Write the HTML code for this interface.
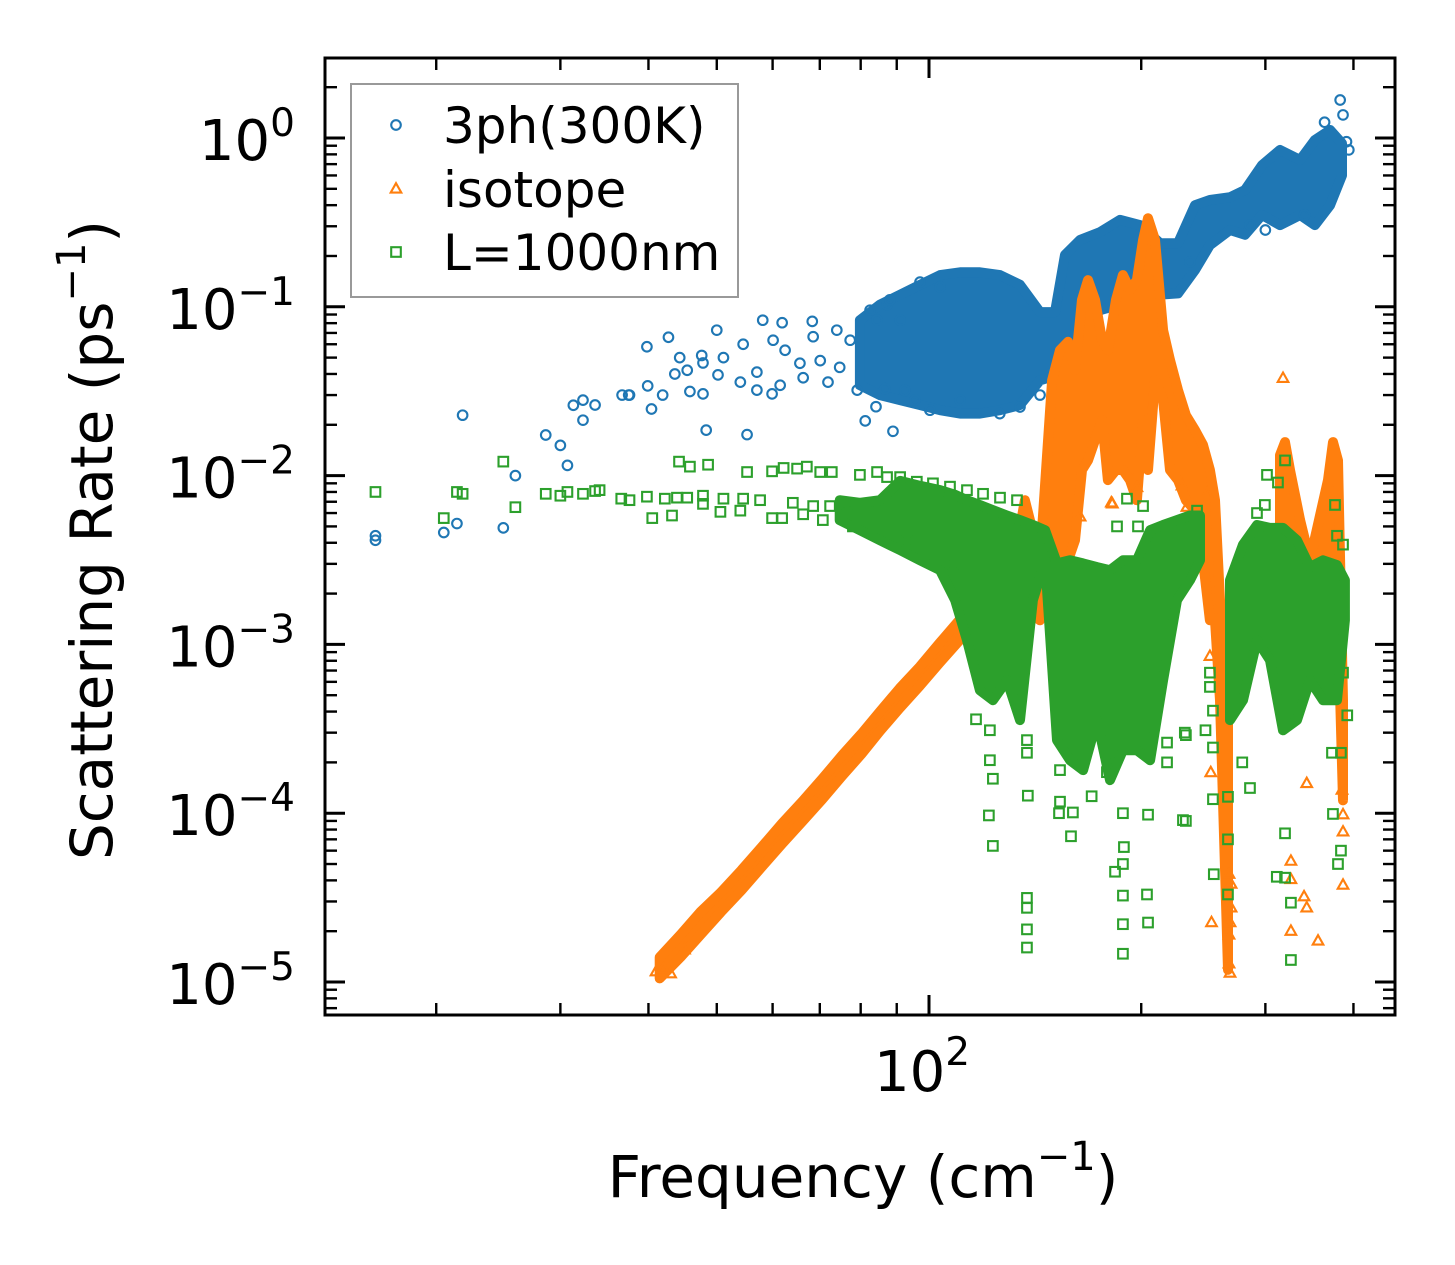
<!DOCTYPE html>
<html><head><meta charset="utf-8"><style>
html,body{margin:0;padding:0;background:#fff;}
svg{display:block;font-family:"DejaVu Sans","Liberation Sans",sans-serif;}
</style></head><body>
<svg id="chart" width="1455" height="1265" viewBox="0 0 1455 1265" xmlns="http://www.w3.org/2000/svg">
<rect x="0" y="0" width="1455" height="1265" fill="#fff"/>
<g id="marks"></g>
<g id="axes"></g>
<g id="legend"></g>
</svg>
<script>
// axis tick values
const xMajorTicks = [100];
const xMinorTicks = [20,30,40,50,60,70,80,90,200,300,400];
const yMajorExps = [0,-1,-2,-3,-4,-5];
const xTickLabels = [["10","2"]];
const yTickLabels = [["10","0"],["10","\u22121"],["10","\u22122"],["10","\u22123"],["10","\u22124"],["10","\u22125"]];

// 3ph(300K) scattered points [frequency, rate]
const phPoints = [[16.4,0.00414],[16.4,0.0044],[20.5,0.0046],[21.4,0.0052],[21.8,0.0228],[24.9,0.0049],[25.9,0.0100],[28.6,0.0174],[30.0,0.0151],[30.7,0.0115],[31.3,0.0261],[32.3,0.0213],[32.3,0.028],[33.6,0.0262],[37.6,0.0300],[39.8,0.058],[42.7,0.066],[40.4,0.0248],[39.9,0.034],[36.7,0.030],[37.5,0.030],[41.9,0.030],[44.3,0.050],[43.6,0.040],[45.4,0.0421],[45.8,0.0315],[47.8,0.0305],[47.6,0.0515],[47.8,0.0465],[50.0,0.0727],[51.1,0.050],[50.2,0.0395],[48.3,0.0186],[55.2,0.0175],[54.5,0.060],[54.0,0.0358],[57.0,0.0321],[58.1,0.0833],[61.9,0.0805],[59.9,0.0305],[61.5,0.0343],[57.0,0.041],[60.1,0.0634],[62.5,0.0553],[66.3,0.038],[68.3,0.082],[68.5,0.0665],[71.9,0.0358],[74.0,0.0727],[74.7,0.0438],[79.1,0.0321],[81.2,0.0211],[84.1,0.0256],[88.9,0.0183],[86.6,0.0327],[87.2,0.103],[97.1,0.140],[103.7,0.131],[84.4,0.0833],[65.6,0.0463],[70.1,0.048],[77.3,0.0634],[82.5,0.0955],[88,0.11],[91,0.0833],[92.4,0.032],[95.5,0.028],[100.3,0.0244],[110.7,0.028],[126,0.0233],[134.6,0.0255],[143.7,0.0300],[153.4,0.0421],[163.8,0.0727],[205.9,0.120],[234.5,0.184],[285.3,0.305],[300,0.285],[341,0.35],[364,1.24],[383,1.68],[386.6,1.37],[391,0.95],[394,0.85]];
// 3ph dense regions [frequency, low, high]
const phBands = [[79.8,0.0343,0.0833],[85.2,0.030,0.103],[91.0,0.028,0.118],[97.1,0.0262,0.135],[103.7,0.0244,0.154],[110.7,0.0233,0.160],[118.1,0.0233,0.160],[126.1,0.0244,0.154],[134.6,0.0262,0.135],[143.7,0.0367,0.093],[150.9,0.039,0.093],[155.9,0.045,0.203],[163.8,0.068,0.249],[174.8,0.0955,0.277],[186.6,0.103,0.327],[199.2,0.110,0.305],[212.7,0.118,0.238],[225.5,0.120,0.238],[238.4,0.165,0.40],[250.3,0.232,0.429],[267.3,0.285,0.446],[280.7,0.267,0.492],[296.7,0.35,0.69],[314.7,0.305,0.849],[336,0.35,0.741],[352.7,0.305,0.973],[370.6,0.40,1.115],[385.3,0.60,0.93]];

// isotope scattered points
const isoPoints = [[250.3,0.00085],[251.0,0.000174],[251.6,0.0000225],[266.4,0.0000435],[268.2,0.0000380],[268.2,0.0000275],[267.3,0.0000225],[266.4,0.0000190],[266.4,0.0000128],[267.3,0.0000113],[326.1,0.0000520],[326.1,0.0000405],[343.4,0.0000275],[326.1,0.0000200],[343.4,0.000150],[385.3,0.000137],[386.6,0.0000980],[386.6,0.0000775],[386.6,0.0000375],[197.2,0.0085],[228.5,0.0087],[232.2,0.0065],[248.0,0.0078],[181.4,0.0069],[317.8,0.0377],[163.8,0.0057],[182.0,0.0068],[356.3,0.0000175],[340.4,0.0000320],[41.0,0.0000115],[42.0,0.000012],[43.0,0.0000112],[45.0,0.0000155]];
// isotope dense regions
const isoBands = [[41.5,0.0000105,0.000014],[44.4,0.000014,0.000019],[47.4,0.000019,0.000026],[50.7,0.000026,0.000034],[54.2,0.000035,0.000046],[57.9,0.000048,0.000063],[61.9,0.000066,0.000087],[66.1,0.000089,0.000117],[70.6,0.000121,0.00016],[75.3,0.000166,0.00022],[80.2,0.000224,0.000295],[85.2,0.000307,0.00040],[90.9,0.00042,0.00055],[97.1,0.00057,0.00074],[103.6,0.00078,0.00102],[110.6,0.00106,0.0014],[116.2,0.00137,0.0018],[122.0,0.00139,0.0021],[130.3,0.00147,0.00225],[136.8,0.0016,0.00715],[143.7,0.00139,0.00315],[149.5,0.00183,0.0367],[153.4,0.00183,0.0553],[157.5,0.00315,0.062],[161.1,0.00414,0.0421],[164.8,0.0108,0.110],[168.1,0.0123,0.144],[172.0,0.0162,0.110],[176.0,0.0213,0.0634],[179.4,0.0094,0.0553],[184.2,0.0108,0.110],[188.4,0.0108,0.154],[192.8,0.0094,0.126],[197.2,0.00715,0.144],[201.2,0.0213,0.249],[204.5,0.0108,0.335],[209.2,0.0367,0.249],[214.8,0.028,0.0727],[219.7,0.0108,0.0483],[225.5,0.0094,0.0321],[231.4,0.00715,0.0228],[238.4,0.00624,0.0186],[244.7,0.00315,0.0152],[250.3,0.00139,0.0108],[254.5,0.00139,0.00715],[258.7,0.000467,0.00183],[265.5,0.0000118,0.00106],[314.7,0.00183,0.0132],[319.9,0.00139,0.0158],[325.1,0.00106,0.0108],[336,0.00139,0.00545],[347.0,0.000924,0.00315],[368.1,0.00183,0.0094],[374.1,0.00275,0.0158],[380.3,0.00139,0.0123],[386.6,0.000119,0.000467]];

// L=1000nm scattered points
const bdPoints = [[16.4,0.0080],[20.5,0.0056],[21.4,0.0080],[21.8,0.0078],[24.9,0.0121],[25.9,0.0065],[28.6,0.0078],[30.0,0.0076],[30.7,0.0080],[32.3,0.0078],[33.6,0.0081],[34.1,0.0082],[36.6,0.0073],[37.6,0.00715],[39.8,0.0075],[40.5,0.0056],[42.2,0.0073],[43.2,0.0058],[43.9,0.0074],[45.4,0.0074],[47.8,0.0076],[47.8,0.0068],[51.1,0.0073],[50.6,0.0061],[54.0,0.0062],[54.5,0.0073],[57.6,0.00715],[59.9,0.0056],[61.9,0.0056],[64.1,0.0069],[66.3,0.0059],[68.5,0.0066],[70.7,0.00545],[72.4,0.0066],[76.5,0.0068],[78.0,0.0050],[84.4,0.0064],[88.9,0.0040],[93.1,0.0041],[96.1,0.0057],[101.3,0.0052],[103.7,0.0036],[108.2,0.0030],[115.4,0.0052],
[44.2,0.0121],[45.8,0.0113],[48.6,0.0116],[55.2,0.0105],[59.9,0.0106],[62.2,0.0111],[65.0,0.0110],[67.1,0.0113],[70.1,0.0105],[72.8,0.0105],[79.8,0.0101],[84.4,0.0105],[87.2,0.0098],[91.0,0.0098],[96.1,0.0092],[101.3,0.0090],[107.1,0.0086],[113.2,0.0082],[119.3,0.0078],[126.1,0.0074],[133.3,0.00715],
[116.6,0.00036],[122.0,0.00031],[122.0,0.000206],[123.2,0.000160],[121.6,0.000097],[123.2,0.000064],[137.7,0.000271],[137.7,0.000228],[138.1,0.000127],[137.7,0.0000315],[137.7,0.0000275],[137.7,0.0000205],[137.7,0.0000160],[153.4,0.000180],[153.4,0.000117],[152.9,0.000100],[160.0,0.000101],[159.0,0.000073],[170.1,0.000126],[178.8,0.000175],[188.4,0.000100],[189.0,0.000063],[188.4,0.000050],[183.6,0.000045],[188.4,0.0000325],[188.4,0.0000220],[188.4,0.0000147],[204.5,0.000098],[203.8,0.0000330],[204.5,0.0000225],[217.6,0.000262],[217.6,0.000200],[231.4,0.000290],[231.4,0.000090],[250.3,0.00068],[250.3,0.00056],[252.8,0.000405],[246.7,0.000310],[252.8,0.000245],[252.8,0.000121],[253.5,0.0000435],[265.5,0.000125],[265.5,0.000070],[265.5,0.000033],[285.3,0.000141],[278.2,0.000200],[319.9,0.000076],[326.1,0.0000295],[326.1,0.0000135],[311.4,0.0000420],[319.9,0.0000415],[374.1,0.0000990],[384.0,0.000060],[380.3,0.000050],[384.0,0.000228],[372.9,0.000228],[392.0,0.000380],[386.6,0.00068],[229.2,0.000091],[230.6,0.000300],
[190.9,0.0073],[201.2,0.0066],[197.9,0.0050],[184.8,0.0050],[240.0,0.0062],[301.6,0.0101],[312.6,0.0091],[319.9,0.0123],[299.5,0.0067],[291.9,0.0060],[376.6,0.0067],[379.1,0.0044],[386.6,0.0039]];
// L=1000nm dense regions
const bdBands = [[74.7,0.00545,0.00715],[79.8,0.00475,0.0069],[85.2,0.00414,0.00715],[91.0,0.00362,0.0093],[97.1,0.00315,0.0087],[103.7,0.00275,0.0082],[108.9,0.00183,0.0077],[113.2,0.00106,0.00715],[118.1,0.000535,0.0067],[123.2,0.000467,0.00624],[129.0,0.000614,0.0058],[134.6,0.000356,0.00545],[140.4,0.00183,0.0051],[146.1,0.00315,0.00475],[151.9,0.000271,0.00302],[158.5,0.000206,0.00315],[165.4,0.00018,0.00302],[173.1,0.000356,0.00287],[180.6,0.000157,0.00275],[188.4,0.000236,0.00315],[197.2,0.000236,0.00315],[205.9,0.000206,0.00475],[214.8,0.000614,0.0051],[224.8,0.00183,0.00545],[234.5,0.0024,0.0058],[242.3,0.00315,0.0058],[267.3,0.000356,0.0024],[278.9,0.000467,0.0039],[291.9,0.00106,0.0051],[304.6,0.000806,0.0049],[317.8,0.00031,0.0049],[332.7,0.000356,0.00414],[347.0,0.000614,0.00287],[362.2,0.000467,0.00315],[379.1,0.000467,0.00295],[389.0,0.00139,0.0024]];

const NS = "http://www.w3.org/2000/svg";
const X0 = 325, X1 = 1395, Y0 = 58, Y1 = 1015;
function xs(f){ return 929 + 705*Math.log10(f/100); }
function ys(v){ return 138 - 168.8*Math.log10(v); }
function mk(tag, attrs, parent){ const e = document.createElementNS(NS, tag); for (const k in attrs) e.setAttribute(k, attrs[k]); parent.appendChild(e); return e; }

const C_PH = "#1f77b4", C_ISO = "#ff7f0e", C_BD = "#2ca02c";
const marksG = document.getElementById("marks");

// dense regions drawn as envelopes between neighbouring bands
function drawBands(arr, color, w, gap, parent, name){
  const groups = [];
  let cur = [];
  arr.forEach((b,i) => {
    if (cur.length && xs(b[0]) - xs(cur[cur.length-1][0]) > gap) { groups.push(cur); cur = []; }
    cur.push(b);
  });
  if (cur.length) groups.push(cur);
  groups.forEach(g => {
    let el;
    if (g.length === 1) {
      el = mk("line", {x1: xs(g[0][0]), x2: xs(g[0][0]), y1: ys(g[0][1]), y2: ys(g[0][2]), stroke: color, "stroke-width": w, "stroke-linecap": "round"}, parent);
    } else {
      const top = g.map(b => xs(b[0]).toFixed(1) + "," + ys(b[2]).toFixed(1));
      const bot = g.slice().reverse().map(b => xs(b[0]).toFixed(1) + "," + ys(b[1]).toFixed(1));
      el = mk("polygon", {points: top.concat(bot).join(" "), fill: color, stroke: color, "stroke-width": w, "stroke-linejoin": "round"}, parent);
    }
    
    
  });
}
function circle(x,y,parent,color){ return mk("circle",{cx:x,cy:y,r:4.8,fill:"none",stroke:color,"stroke-width":2.1}, parent); }
function tri(x,y,parent,color){ return mk("polygon",{points:`${x},${y-5.8} ${x-5.3},${y+3.6} ${x+5.3},${y+3.6}`,fill:"none",stroke:color,"stroke-width":2.1}, parent); }
function sq(x,y,parent,color){ return mk("rect",{x:x-4.8,y:y-4.8,width:9.6,height:9.6,fill:"none",stroke:color,"stroke-width":2.1}, parent); }

const phG = mk("g", {}, marksG);


drawBands(phBands, C_PH, 10, 26, phG, "3ph-dense-region");
phPoints.forEach(p => { const e = circle(xs(p[0]), ys(p[1]), phG, C_PH);
  
   });
const isoG = mk("g", {}, marksG);


drawBands(isoBands, C_ISO, 10, 24, isoG, "isotope-dense-region");
isoPoints.forEach(p => { const e = tri(xs(p[0]), ys(p[1]), isoG, C_ISO);
  
   });
const bdG = mk("g", {}, marksG);


drawBands(bdBands, C_BD, 10, 22, bdG, "boundary-dense-region");
bdPoints.forEach(p => { const e = sq(xs(p[0]), ys(p[1]), bdG, C_BD);
  
   });

// axes
const ax = document.getElementById("axes");
const frame = mk("rect", {x:X0, y:Y0, width:X1-X0, height:Y1-Y0, fill:"none", stroke:"#000", "stroke-width":3}, ax);


function tick(x1,y1,x2,y2,w,name){ const t = mk("line",{x1,y1,x2,y2,stroke:"#000","stroke-width":w}, ax);
  
   }
xMajorTicks.forEach((f,i) => { const x = xs(f);
  tick(x,Y1,x,Y1-20,3,'x-major-tick'); tick(x,Y0,x,Y0+20,3,'x-major-tick-top');
  const t = mk("text",{x:x-7,y:1091,"font-size":56,"text-anchor":"middle"}, ax);
  
  
  t.textContent = xTickLabels[i][0];
  const s = mk("tspan",{"font-size":39,dy:-26}, t); s.textContent = xTickLabels[i][1]; });
xMinorTicks.forEach(f => { const x = xs(f); if (x<X0||x>X1) return;
  tick(x,Y1,x,Y1-12,2.4,'x-minor-tick'); tick(x,Y0,x,Y0+12,2.4,'x-minor-tick-top'); });
yMajorExps.forEach((e,i) => { const y = ys(Math.pow(10,e));
  tick(X0,y,X0+20,y,3,'y-major-tick'); tick(X1,y,X1-20,y,3,'y-major-tick-right');
  const t = mk("text",{x:295,y:y+22,"font-size":56,"text-anchor":"end"}, ax);
  
  
  t.textContent = yTickLabels[i][0];
  const s = mk("tspan",{"font-size":39,dy:-24}, t); s.textContent = yTickLabels[i][1]; });
for (let e=-6; e<=0; e++) for (let k=2; k<=9; k++){ const y = ys(k*Math.pow(10,e)); if (y<Y0||y>Y1) continue;
  tick(X0,y,X0+12,y,2.4,'y-minor-tick'); tick(X1,y,X1-12,y,2.4,'y-minor-tick-right'); }

const xl = mk("text",{x:863,y:1197,"font-size":58,"text-anchor":"middle"}, ax);


xl.textContent = "Frequency (cm";
const xs1 = mk("tspan",{"font-size":40,dy:-27}, xl); xs1.textContent = "\u22121";
const xs2 = mk("tspan",{dy:27}, xl); xs2.textContent = ")";

const yl = mk("text",{x:0,y:0,"font-size":58,"text-anchor":"middle",transform:"translate(112,540) rotate(-90)"}, ax);


yl.textContent = "Scattering Rate (ps";
const ys1 = mk("tspan",{"font-size":40,dy:-27}, yl); ys1.textContent = "\u22121";
const ys2 = mk("tspan",{dy:27}, yl); ys2.textContent = ")";

// legend
const lg = document.getElementById("legend");
const box = mk("rect",{x:351,y:84,width:387,height:213,fill:"#fff","fill-opacity":0.8,stroke:"#999","stroke-width":2}, lg);


const legendLabels = ["3ph(300K)","isotope","L=1000nm"];
const legendY = [125,189,252];
const fns = [circle, tri, sq], cols = [C_PH, C_ISO, C_BD];
legendLabels.forEach((lab,i) => {
  const g = mk("g",{}, lg);
  
  
  fns[i](396, legendY[i], g, cols[i]);
  const t = mk("text",{x:443,y:legendY[i]+18,"font-size":50}, g);
  t.textContent = lab;
});
</script>
</body></html>
